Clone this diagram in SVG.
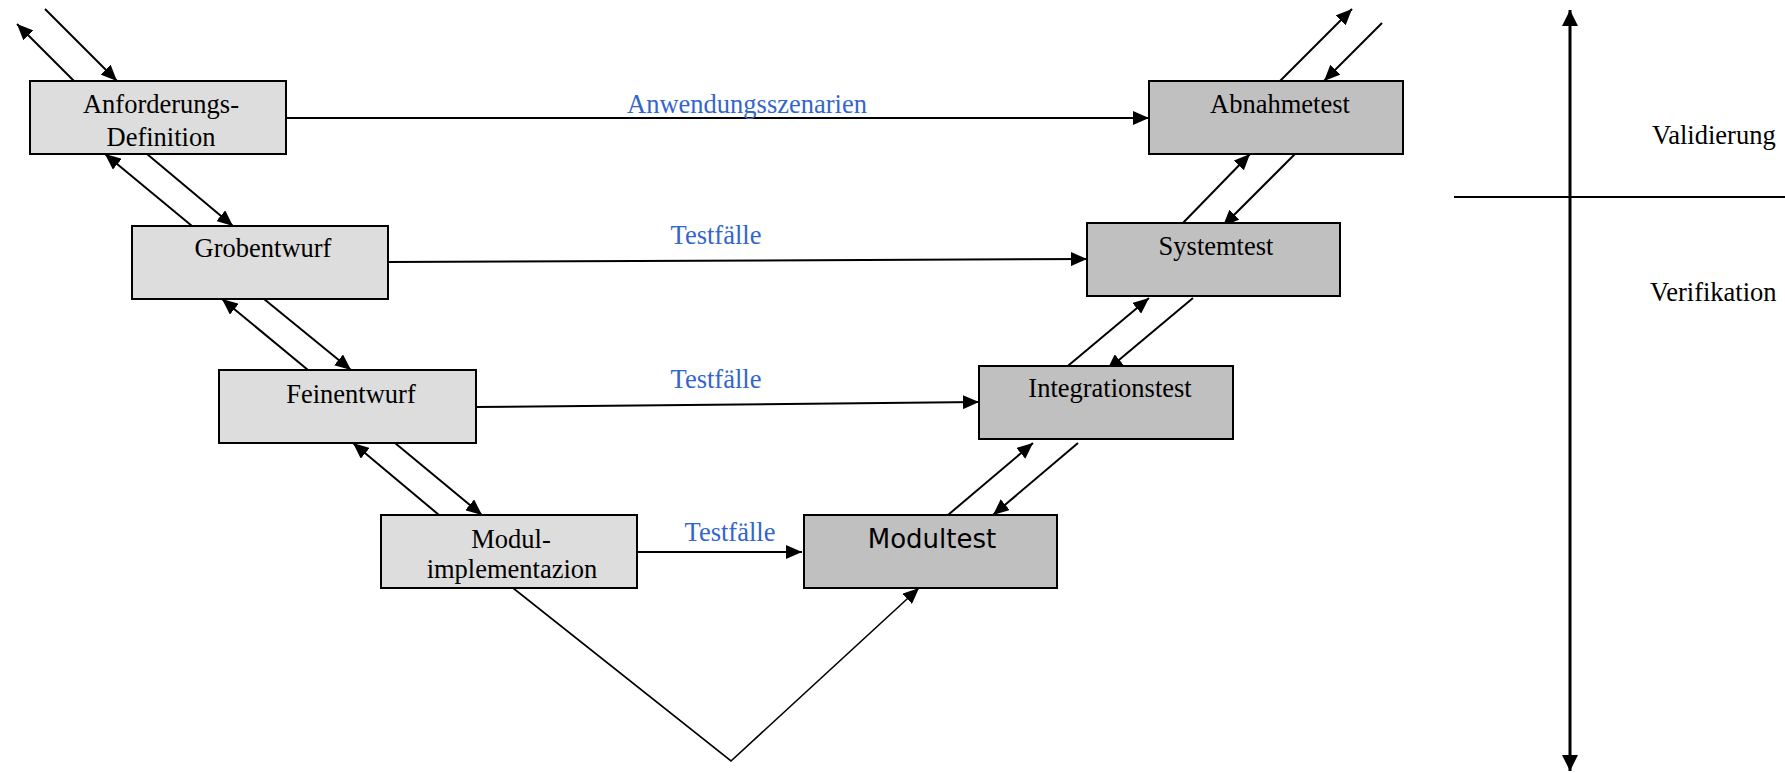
<svg xmlns="http://www.w3.org/2000/svg" width="1785" height="773" viewBox="0 0 1785 773">
<style>
.bl{fill:#DDDDDD;stroke:#000;stroke-width:2}
.bd{fill:#C0C0C0;stroke:#000;stroke-width:2}
.t{font-family:"Liberation Serif","Times New Roman",serif;font-size:26.5px;fill:#000;text-anchor:middle}
.lab{font-family:"Liberation Serif","Times New Roman",serif;font-size:26.5px;fill:#3366CC;text-anchor:middle}
.s{font-family:"DejaVu Sans",sans-serif;font-size:26px;fill:#000;text-anchor:middle}
.c{fill:none;stroke:#000;stroke-width:2}
.a{marker-end:url(#ah)}
</style>
<defs>
<marker id="ah" markerUnits="userSpaceOnUse" markerWidth="16" markerHeight="14" refX="16" refY="7" orient="auto">
<path d="M0,0 L16,7 L0,14 z" fill="#000"/>
</marker>
<marker id="ax" markerUnits="userSpaceOnUse" markerWidth="16" markerHeight="16" refX="16" refY="8" orient="auto-start-reverse">
<path d="M0,0 L16,8 L0,16 z" fill="#000"/>
</marker>
</defs>
<g id="connectors">
<line class="c a" x1="74" y1="81" x2="17" y2="24"/>
<line class="c a" x1="45" y1="9" x2="117" y2="81"/>
<line class="c a" x1="192" y1="226" x2="105" y2="154"/>
<line class="c a" x1="147" y1="154" x2="233" y2="226"/>
<line class="c a" x1="308" y1="370" x2="222" y2="299"/>
<line class="c a" x1="264" y1="299" x2="351" y2="370"/>
<line class="c a" x1="439" y1="515" x2="353" y2="443"/>
<line class="c a" x1="395" y1="443" x2="482" y2="515"/>
<polyline class="c a" style="stroke-width:1.6" points="513,588 731,761 919,588"/>
<line class="c a" x1="637" y1="552" x2="802" y2="552"/>
<line class="c a" x1="476" y1="407" x2="979" y2="402"/>
<line class="c a" x1="388" y1="262" x2="1087" y2="259"/>
<line class="c a" x1="286" y1="118" x2="1149" y2="118"/>
<line class="c a" x1="948" y1="515" x2="1033" y2="443"/>
<line class="c a" x1="1078" y1="443" x2="993" y2="515"/>
<line class="c a" x1="1063" y1="370" x2="1149" y2="298"/>
<line class="c a" x1="1193" y1="298" x2="1107" y2="370"/>
<line class="c a" x1="1180" y1="226" x2="1250" y2="154"/>
<line class="c a" x1="1295" y1="154" x2="1223" y2="226"/>
<line class="c a" x1="1280" y1="81" x2="1352" y2="9"/>
<line class="c a" x1="1382" y1="23" x2="1324" y2="81"/>
<line class="c" style="stroke-width:3" marker-start="url(#ax)" marker-end="url(#ax)" x1="1570" y1="10" x2="1570" y2="771"/>
<line class="c" x1="1454" y1="197" x2="1785" y2="197"/>
</g>
<g id="labels">
<text class="lab" x="747" y="113">Anwendungsszenarien</text>
<text class="lab" x="716" y="244">Testfälle</text>
<text class="lab" x="716" y="388">Testfälle</text>
<text class="lab" x="730" y="541">Testfälle</text>
</g>
<g id="anforderungsdefinition">
<rect class="bl" x="30" y="81" width="256" height="73"/>
<text class="t" x="161" y="113">Anforderungs-</text>
<text class="t" x="161" y="146">Definition</text>
</g>
<g id="grobentwurf">
<rect class="bl" x="132" y="226" width="256" height="73"/>
<text class="t" x="263" y="257">Grobentwurf</text>
</g>
<g id="feinentwurf">
<rect class="bl" x="219" y="370" width="257" height="73"/>
<text class="t" x="351" y="403">Feinentwurf</text>
</g>
<g id="modulimplementazion">
<rect class="bl" x="381" y="515" width="256" height="73"/>
<text class="t" x="511" y="548">Modul-</text>
<text class="t" x="512" y="578">implementazion</text>
</g>
<g id="modultest">
<rect class="bd" x="804" y="515" width="253" height="73"/>
<text class="s" x="932" y="548">Modultest</text>
</g>
<g id="integrationstest">
<rect class="bd" x="979" y="366" width="254" height="73"/>
<text class="t" x="1110" y="397">Integrationstest</text>
</g>
<g id="systemtest">
<rect class="bd" x="1087" y="223" width="253" height="73"/>
<text class="t" x="1216" y="255">Systemtest</text>
</g>
<g id="abnahmetest">
<rect class="bd" x="1149" y="81" width="254" height="73"/>
<text class="t" x="1280" y="113">Abnahmetest</text>
</g>
<g id="axis-labels">
<text class="t" style="text-anchor:start" x="1652" y="144">Validierung</text>
<text class="t" style="text-anchor:start" x="1650" y="301">Verifikation</text>
</g>
</svg>
